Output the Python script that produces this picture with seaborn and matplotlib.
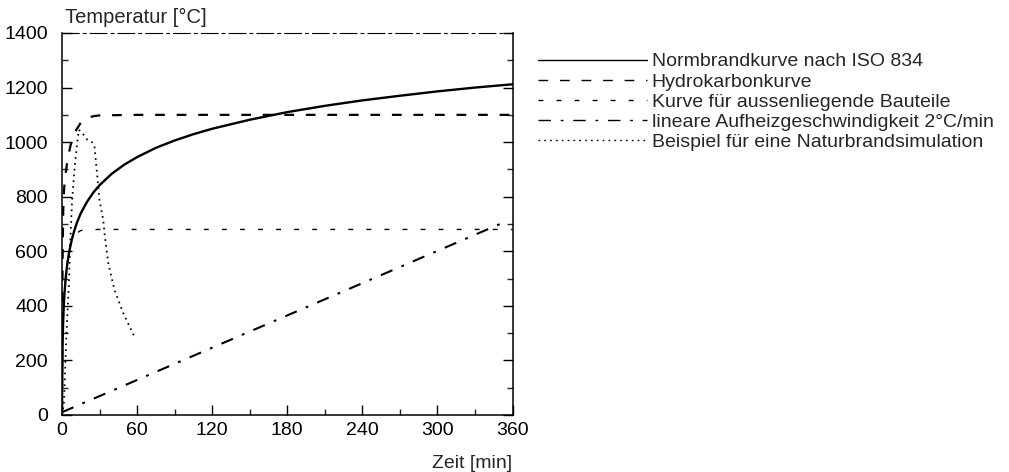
import matplotlib
matplotlib.use("Agg")
import matplotlib.pyplot as plt
from matplotlib.ticker import MultipleLocator
import seaborn as sns
import pandas as pd

# ---- data ----
iso_t = [0, 0.5, 1, 1.5, 2, 3, 4, 5, 6, 8, 10, 12, 15, 20, 25, 30, 40, 50, 60, 75, 90, 105,
         120, 150, 180, 210, 240, 270, 300, 330, 360]
iso_T = [20, 261, 349, 404, 445, 502, 544, 576, 603, 645, 678, 705, 739, 781, 815, 842, 885, 918,
         945, 979, 1006, 1029, 1049, 1082, 1110, 1133, 1153, 1170, 1186, 1200, 1212]

hc_t = [0, 0.5, 1, 1.5, 2, 3, 4, 5, 7, 10, 15, 20, 25, 30, 60, 120, 180, 240, 300, 360]
hc_T = [20, 569, 744, 810, 844, 887, 920, 948, 991, 1034, 1071, 1088, 1095, 1098, 1100, 1100,
        1100, 1100, 1100, 1100]

ext_t = [0, 1, 2, 3, 5, 7, 10, 15, 20, 30, 60, 120, 180, 240, 300, 360]
ext_T = [20, 346, 441, 506, 588, 632, 661, 676, 679, 680, 680, 680, 680, 680, 680, 680]

lin_t = [0, 350]
lin_T = [10, 700]

nat_t = [0, 1.5, 2.4, 3.7, 5.6, 6.5, 8, 10, 12, 13.5, 16, 20, 24, 26, 28, 30, 33, 34, 37, 42, 49, 58]
nat_T = [0, 40, 146, 311, 483, 620, 780, 900, 990, 1045, 1035, 1010, 1000, 982, 886, 787, 714,
         666, 556, 458, 373, 286]

labels = ["Normbrandkurve nach ISO 834",
          "Hydrokarbonkurve",
          "Kurve für aussenliegende Bauteile",
          "lineare Aufheizgeschwindigkeit 2°C/min",
          "Beispiel für eine Naturbrandsimulation"]

x_ticks = [0, 60, 120, 180, 240, 300, 360]
y_ticks = [0, 200, 400, 600, 800, 1000, 1200, 1400]

# ---- style ----
sns.set_style("ticks")
plt.rcParams['font.family'] = ['Liberation Sans', 'DejaVu Sans']
plt.rcParams['lines.scale_dashes'] = False

fig = plt.figure(figsize=(10.09, 4.72), dpi=100)
ax = fig.add_axes([0.0614, 0.1208, 0.4466, 0.8093])

series = [
    (iso_t, iso_T, dict(color='black', lw=1.7, linestyle='-')),
    (hc_t, hc_T, dict(color='black', lw=1.6, linestyle=(0, (7, 8.5)))),
    (ext_t, ext_T, dict(color='black', lw=1.0, linestyle=(0, (3.5, 9.5)))),
    (lin_t, lin_T, dict(color='black', lw=1.5, linestyle=(0, (9, 7, 2, 7)))),
    (nat_t, nat_T, dict(color='black', lw=1.3, linestyle=(0, (1.2, 3.0)))),
]

for (t, T, kw), lab in zip(series, labels):
    df = pd.DataFrame({"t": t, "T": T})
    sns.lineplot(data=df, x="t", y="T", ax=ax, label=lab, estimator=None, sort=False, **kw)

ax.set_xlim(0, 360)
ax.set_ylim(0, 1400)
ax.set_xticks(x_ticks)
ax.set_yticks(y_ticks)
ax.xaxis.set_minor_locator(MultipleLocator(30))
ax.yaxis.set_minor_locator(MultipleLocator(100))
ax.set_xlabel("")
ax.set_ylabel("")

ax.tick_params(axis='both', which='major', direction='in', length=7, width=1.0,
               labelsize=14, colors='black')
ax.tick_params(axis='both', which='minor', direction='in', length=4, width=1.0)
ax.tick_params(axis='y', which='both', right=True, pad=10)
ax.tick_params(axis='x', which='both', top=False, pad=5)

for s in ['left', 'right', 'bottom', 'top']:
    ax.spines[s].set_visible(True)
    ax.spines[s].set_linewidth(1.1)
    ax.spines[s].set_color('black')
ax.spines['top'].set_linestyle((0, (12, 3, 2, 3)))
ax.spines['top'].set_linewidth(0.8)

fig.text(0.064, 0.962, "Temperatur [°C]", fontsize=14.5, va='center', ha='left')
fig.text(0.508, 0.018, "Zeit [min]", fontsize=14, va='center', ha='right')

leg = ax.legend(loc='upper left', bbox_to_anchor=(0.533, 0.888), bbox_transform=fig.transFigure,
                frameon=False, fontsize=14, handlelength=5.6, handletextpad=0.25,
                labelspacing=0.13, borderaxespad=0, borderpad=0)
for line in leg.get_lines():
    line.set_linewidth(1.0)

fig.savefig("out.png", dpi=100)
